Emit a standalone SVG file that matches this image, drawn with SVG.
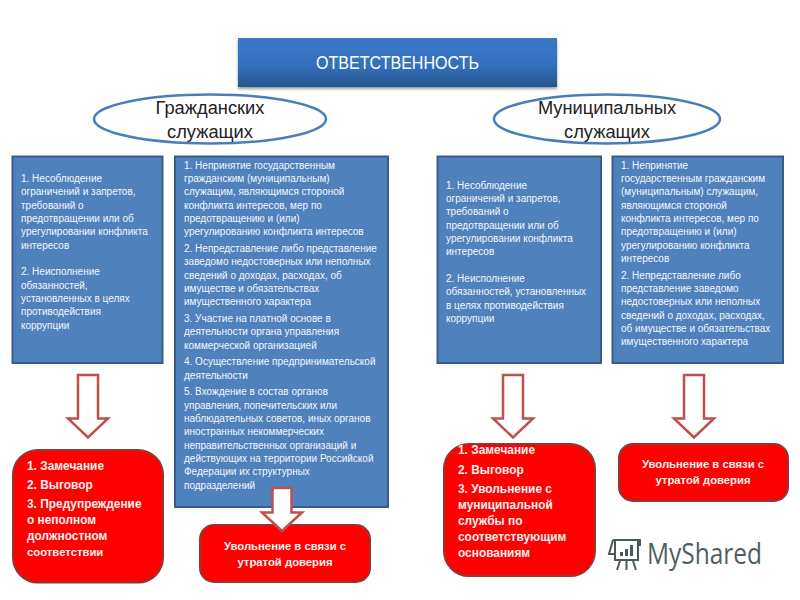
<svg xmlns="http://www.w3.org/2000/svg" width="800" height="600" viewBox="0 0 800 600">
<style>
text{font-family:"Liberation Sans","Noto Sans",sans-serif}
.b{fill:#4f81bd;stroke:#385d8a;stroke-width:2}
.e{fill:#fff;stroke:#4a7ebb;stroke-width:2.5}
.r{fill:#f00;stroke:#943634;stroke-width:2}
.a{fill:#fff;stroke:#c0504d;stroke-width:2.5}
.t{fill:#f4f7fb;font-size:10px}
.w{fill:#fdf0f0;font-size:11.3px;font-weight:bold}
.l{font-size:11.9px}
.h{fill:#222;font-size:18.300px;text-anchor:middle}
.c{text-anchor:middle}
.g{fill:none;stroke:#4a5a5a;stroke-width:2}
</style>
<defs>
<linearGradient id="tg" x1="0" y1="0" x2="0" y2="1"><stop offset="0" stop-color="#3a78c8"/><stop offset=".55" stop-color="#3570bd"/><stop offset="1" stop-color="#25558f"/></linearGradient>
<filter id="sh" x="-5%" y="-15%" width="110%" height="135%"><feDropShadow dx="0" dy="2" stdDeviation="1.5" flood-color="#000" flood-opacity=".4"/></filter>
</defs>
<g id="title"><rect x="238" y="38" width="319" height="49" fill="url(#tg)" filter="url(#sh)"/><text x="316" y="69" fill="#fff" font-size="17.5" textLength="163" lengthAdjust="spacingAndGlyphs">ОТВЕТСТВЕННОСТЬ</text></g>
<g id="ell-civil"><ellipse class="e" cx="210" cy="119" rx="116" ry="24.5"/><text class="h" x="210" y="113.500">Гражданских</text><text class="h" x="210" y="138">служащих</text></g>
<g id="ell-mun"><ellipse class="e" cx="607" cy="119" rx="113" ry="24.500"/><text class="h" x="607" y="113.500">Муниципальных</text><text class="h" x="607" y="138">служащих</text></g>
<g id="box-a"><rect class="b" x="12.500" y="156.500" width="150" height="206.500"/>
<text class="t" x="21"><tspan x="21" y="181.500">1. Несоблюдение</tspan><tspan x="21" y="195">ограничений и запретов,</tspan><tspan x="21" y="208.500">требований о</tspan><tspan x="21" y="221.500">предотвращении или об</tspan><tspan x="21" y="235">урегулировании конфликта</tspan><tspan x="21" y="248.500">интересов</tspan><tspan x="21" y="275">2. Неисполнение</tspan><tspan x="21" y="288.500">обязанностей,</tspan><tspan x="21" y="301.500">установленных в целях</tspan><tspan x="21" y="315">противодействия</tspan><tspan x="21" y="328.500">коррупции</tspan></text></g>
<g id="box-b"><rect class="b" x="175" y="156.500" width="213" height="350.500"/>
<text class="t"><tspan x="184" y="168.500">1. Непринятие государственным</tspan><tspan x="184" y="181.500">гражданским (муниципальным)</tspan><tspan x="184" y="195">служащим, являющимся стороной</tspan><tspan x="184" y="208.500">конфликта интересов, мер по</tspan><tspan x="184" y="221.500">предотвращению и (или)</tspan><tspan x="184" y="235">урегулированию конфликта интересов</tspan><tspan x="184" y="251.500">2. Непредставление либо представление</tspan><tspan x="184" y="265">заведомо недостоверных или неполных</tspan><tspan x="184" y="278.500">сведений о доходах, расходах, об</tspan><tspan x="184" y="291.500">имуществе и обязательствах</tspan><tspan x="184" y="305">имущественного характера</tspan><tspan x="184" y="321.500">3. Участие на платной основе в</tspan><tspan x="184" y="335">деятельности органа управления</tspan><tspan x="184" y="348.500">коммерческой организацией</tspan><tspan x="184" y="365">4. Осуществление предпринимательской</tspan><tspan x="184" y="378.500">деятельности</tspan><tspan x="184" y="395">5. Вхождение в состав органов</tspan><tspan x="184" y="408.500">управления, попечительских или</tspan><tspan x="184" y="421.500">наблюдательных советов, иных органов</tspan><tspan x="184" y="435">иностранных некоммерческих</tspan><tspan x="184" y="448.500">неправительственных организаций и</tspan><tspan x="184" y="461.500">действующих на территории Российской</tspan><tspan x="184" y="475">Федерации их структурных</tspan><tspan x="184" y="488.500">подразделений</tspan></text></g>
<g id="box-c"><rect class="b" x="437.500" y="156.500" width="163.500" height="206.500"/>
<text class="t"><tspan x="446" y="188.500">1. Несоблюдение</tspan><tspan x="446" y="201.500">ограничений и запретов,</tspan><tspan x="446" y="215">требований о</tspan><tspan x="446" y="228.500">предотвращении или об</tspan><tspan x="446" y="241.500">урегулировании конфликта</tspan><tspan x="446" y="255">интересов</tspan><tspan x="446" y="281.500">2. Неисполнение</tspan><tspan x="446" y="295">обязанностей, установленных</tspan><tspan x="446" y="308.500">в целях противодействия</tspan><tspan x="446" y="321.500">коррупции</tspan></text></g>
<g id="box-d"><rect class="b" x="612.500" y="156.500" width="170.500" height="206.500"/>
<text class="t"><tspan x="621" y="168.500">1. Непринятие</tspan><tspan x="621" y="181.500">государственным гражданским</tspan><tspan x="621" y="195">(муниципальным) служащим,</tspan><tspan x="621" y="208.500">являющимся стороной</tspan><tspan x="621" y="221.500">конфликта интересов, мер по</tspan><tspan x="621" y="235">предотвращению и (или)</tspan><tspan x="621" y="248.500">урегулированию конфликта</tspan><tspan x="621" y="261.500">интересов</tspan><tspan x="621" y="278.500">2. Непредставление либо</tspan><tspan x="621" y="291.500">представление заведомо</tspan><tspan x="621" y="305">недостоверных или неполных</tspan><tspan x="621" y="318.500">сведений о доходах, расходах,</tspan><tspan x="621" y="331.500">об имуществе и обязательствах</tspan><tspan x="621" y="345">имущественного характера</tspan></text></g>
<g id="red-1"><rect class="r" x="13" y="450" width="150" height="132.500" rx="25"/>
<text class="w l"><tspan x="27" y="469.500">1. Замечание</tspan><tspan x="27" y="488.500">2. Выговор</tspan><tspan x="27" y="507.500">3. Предупреждение</tspan><tspan x="27" y="524">о неполном</tspan><tspan x="27" y="540">должностном</tspan><tspan x="27" y="556" font-size="11.3">соответствии</tspan></text></g>
<g id="red-2"><rect class="r" x="200" y="525" width="170" height="57" rx="14"/>
<text class="w c"><tspan x="285" y="550">Увольнение в связи с</tspan><tspan x="285" y="566">утратой доверия</tspan></text></g>
<g id="red-3"><rect class="r" x="444" y="444" width="151" height="132" rx="25"/>
<text class="w l"><tspan x="458" y="454">1. Замечание</tspan><tspan x="458" y="473.500">2. Выговор</tspan><tspan x="458" y="492.500">3. Увольнение с</tspan><tspan x="458" y="509">муниципальной</tspan><tspan x="458" y="525">службы по</tspan><tspan x="458" y="541">соответствующим</tspan><tspan x="458" y="557">основаниям</tspan></text></g>
<g id="red-4"><rect class="r" x="619" y="444" width="169" height="57" rx="14"/>
<text class="w c"><tspan x="703" y="468">Увольнение в связи с</tspan><tspan x="703" y="484">утратой доверия</tspan></text></g>
<g id="connectors">
<path class="a" d="M78 375H98V418.500H108L88 437.500L68 418.500H78Z"/>
<path class="a" d="M272.500 488H291.500V512.500H302L282 531L262 512.500H272.500Z"/>
<path class="a" d="M503 375H523V418.500H533L513 437.500L493 418.500H503Z"/>
<path class="a" d="M684 375H704V418.500H714L694 437.500L674 418.500H684Z"/>
</g>
<g id="logo">
<path class="g" d="M613 540H640V546M615 541V560H638V541M613 540L609 554H614"/>
<path d="M620 556V552H623V556ZM625 556V549H628V556ZM630 556V545H633V556Z" fill="#4a5a5a"/>
<path class="g" stroke-width="1.500" d="M620 561L617 570M626.500 561V570M633 561L636 570"/>
<text x="647" y="564" fill="#4f5f5f" font-size="29" style="font-family:'Open Sans','Noto Sans',sans-serif" textLength="115" lengthAdjust="spacingAndGlyphs">MyShared</text>
</g>
</svg>
